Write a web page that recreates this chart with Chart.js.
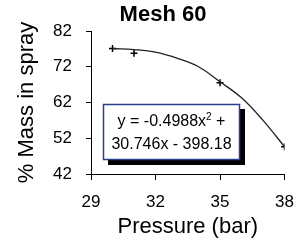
<!DOCTYPE html>
<html>
<head>
<meta charset="utf-8">
<script src="https://cdn.jsdelivr.net/npm/chart.js@4"></script>
<style>
  html, body { margin: 0; padding: 0; background: #fff; }
  canvas { display: block; }
</style>
</head>
<body>
<canvas id="meshChart" width="306" height="241"></canvas>
<script>
        const pressure = [30, 31, 35, 38];
        const massInSpray = [77.1, 75.8, 67.5, 49.6];

        // fitted curve
        const trendPressure = [30, 31, 32, 33, 34, 35, 36, 37, 38];
        const trendMass = [77.1, 76.8, 76.1, 74.4, 72.0, 67.8, 63.3, 57.0, 49.6];

        const xTicks = [29, 32, 35, 38];
        const yTicks = [42, 52, 62, 72, 82];

        const chartTitle = "Mesh 60";
        const eqLine1 = "y = -0.4988x";
        const eqLine2 = "30.746x - 398.18";

        const FONT = "Arial, 'Liberation Sans', sans-serif";

        // title + equation box drawn on the canvas
        const extrasPlugin = {
            id: 'extras',
            afterDraw(chart) {
                const ctx = chart.ctx;
                ctx.save();
                ctx.fillStyle = '#000';
                ctx.textAlign = 'center';
                ctx.textBaseline = 'middle';
                ctx.font = "bold 22px " + FONT;
                ctx.fillText(chartTitle, 163, 15);

                // equation box with shadow
                const bx = 103, by = 104, bw = 137, bh = 56;
                ctx.fillStyle = '#000';
                ctx.fillRect(bx + 5, by + 5, bw, bh);
                ctx.fillStyle = '#fff';
                ctx.fillRect(bx, by, bw, bh);
                ctx.strokeStyle = '#2b3f8c';
                ctx.lineWidth = 1.5;
                ctx.strokeRect(bx + 0.5, by + 0.5, bw - 1, bh - 1);

                ctx.fillStyle = '#000';
                ctx.font = "16px " + FONT;
                ctx.textAlign = 'left';
                const w1 = ctx.measureText(eqLine1).width;
                ctx.font = "10px " + FONT;
                const wSup = ctx.measureText("2").width;
                ctx.font = "16px " + FONT;
                const wEnd = ctx.measureText(" +").width;
                let x = bx + bw / 2 - (w1 + wSup + wEnd) / 2;
                ctx.fillText(eqLine1, x, 122);
                ctx.font = "10px " + FONT;
                ctx.fillText("2", x + w1, 117);
                ctx.font = "16px " + FONT;
                ctx.fillText(" +", x + w1 + wSup, 122);
                ctx.textAlign = 'center';
                ctx.fillText(eqLine2, bx + bw / 2, 145);
                ctx.restore();
            }
        };

        const ctx = document.getElementById('meshChart').getContext('2d');
        new Chart(ctx, {
            type: 'scatter',
            data: {
                datasets: [{
                    label: 'Trend',
                    data: trendPressure.map((p, i) => ({ x: p, y: trendMass[i] })),
                    showLine: true,
                    borderColor: '#222',
                    borderWidth: 1.3,
                    pointRadius: 0,
                    tension: 0.4,
                    fill: false
                }, {
                    label: '% Mass in spray',
                    data: pressure.map((p, i) => ({ x: p, y: massInSpray[i] })),
                    showLine: false,
                    pointStyle: 'cross',
                    pointRadius: 3.5,
                    borderColor: '#000',
                    borderWidth: 1.5,
                    backgroundColor: '#000'
                }]
            },
            options: {
                responsive: false,
                animation: false,
                devicePixelRatio: 1,
                layout: { padding: { top: 31, right: 13, left: 0, bottom: 0 } },
                plugins: {
                    legend: { display: false },
                    tooltip: { enabled: false },
                    title: { display: false }
                },
                scales: {
                    x: {
                        type: 'linear',
                        min: 29,
                        max: 38,
                        afterBuildTicks: (axis) => { axis.ticks = xTicks.map(v => ({ value: v })); },
                        afterFit: (axis) => { axis.height = 67; },
                        grid: { display: true, drawOnChartArea: false, drawTicks: true, tickLength: 6, color: '#000' },
                        border: { display: true, color: '#000', width: 1 },
                        ticks: { color: '#000', padding: 12, font: { family: FONT, size: 17 }, maxRotation: 0 },
                        title: { display: true, text: 'Pressure (bar)', color: '#000', padding: { top: 0, bottom: 1 }, font: { family: FONT, size: 22 } }
                    },
                    y: {
                        type: 'linear',
                        min: 42,
                        max: 82,
                        afterBuildTicks: (axis) => { axis.ticks = yTicks.map(v => ({ value: v })); },
                        afterFit: (axis) => { axis.width = 91; },
                        grid: { display: true, drawOnChartArea: false, drawTicks: true, tickLength: 5, color: '#000' },
                        border: { display: true, color: '#000', width: 1 },
                        ticks: { color: '#000', padding: 14, font: { family: FONT, size: 17 } },
                        title: { display: true, text: '% Mass in spray', color: '#000', padding: { top: 14, bottom: 0 }, font: { family: FONT, size: 22 } }
                    }
                }
            },
            plugins: [extrasPlugin]
        });
</script>
</body>
</html>
